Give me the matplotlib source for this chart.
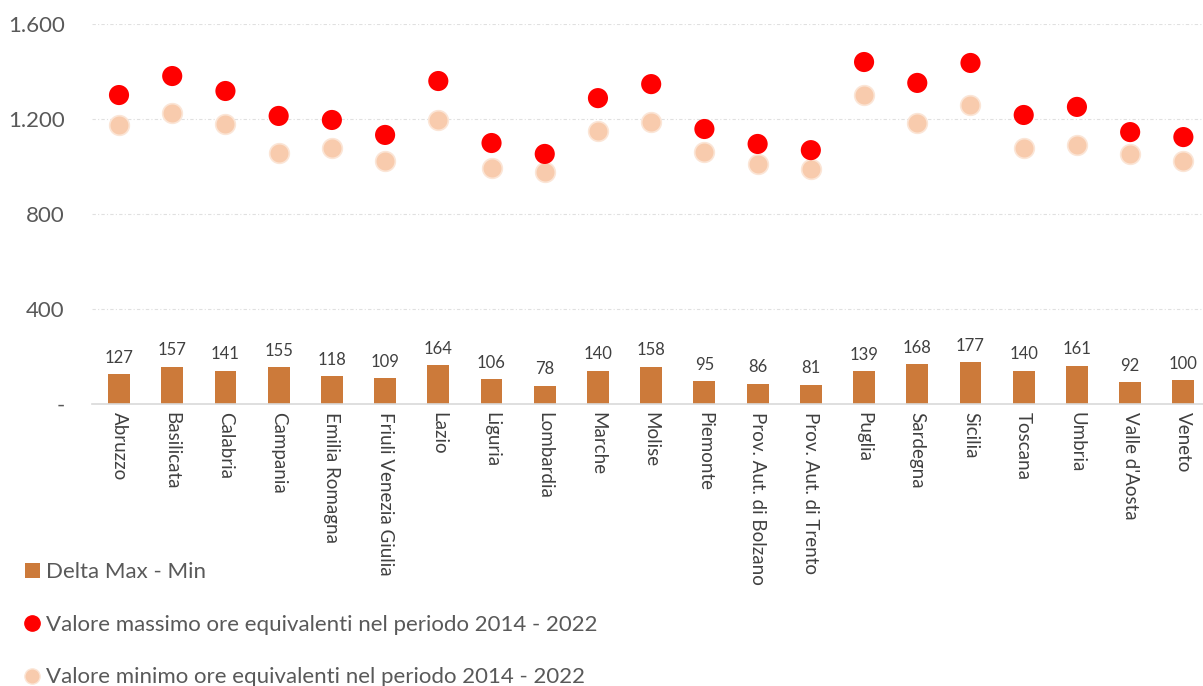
import matplotlib.pyplot as plt
import numpy as np
from matplotlib.lines import Line2D
from matplotlib.patches import Patch
from matplotlib.ticker import FuncFormatter

plt.rcParams["font.family"] = ["Lato", "DejaVu Sans"]

regions = [
    "Abruzzo", "Basilicata", "Calabria", "Campania", "Emilia Romagna",
    "Friuli Venezia Giulia", "Lazio", "Liguria", "Lombardia", "Marche",
    "Molise", "Piemonte", "Prov. Aut. di Bolzano", "Prov. Aut. di Trento",
    "Puglia", "Sardegna", "Sicilia", "Toscana", "Umbria", "Valle d'Aosta",
    "Veneto",
]
max_hours = [1301, 1381, 1318, 1213, 1196, 1133, 1360, 1099, 1053, 1288,
             1347, 1158, 1095, 1069, 1440, 1352, 1436, 1217, 1251, 1145, 1124]
min_hours = [1174, 1224, 1177, 1058, 1078, 1024, 1196, 993, 975, 1148,
             1189, 1063, 1009, 988, 1301, 1184, 1259, 1077, 1090, 1053, 1024]
delta = [127, 157, 141, 155, 118, 109, 164, 106, 78, 140,
         158, 95, 86, 81, 139, 168, 177, 140, 161, 92, 100]

BAR = "#CC7A3A"
MAX_C = "#FF0000"
MIN_C = "#F8CBAD"
GRAY = "#595959"

fig = plt.figure(figsize=(12.03, 6.86), dpi=100)
ax = fig.add_axes([0.0768, 0.411, 0.929, 0.554])

x = np.arange(len(regions))
ax.bar(x, delta, width=0.41, color=BAR, zorder=2)
for xi, d in zip(x, delta):
    ax.annotate(f"{d}", (xi, d), xytext=(0, 6), textcoords="offset points",
                ha="center", va="bottom", fontsize=12, color="#404040")

ax.scatter(x, min_hours, s=200, color=MIN_C, edgecolors="#FBE5D6",
           linewidths=1.2, zorder=3)
ax.scatter(x, max_hours, s=210, color=MAX_C, edgecolors="none", zorder=4)

ax.set_xlim(-0.5, len(regions) - 0.5)
ax.set_ylim(0, 1600)
ax.set_yticks([0, 400, 800, 1200, 1600])
ax.yaxis.set_major_formatter(FuncFormatter(
    lambda v, _: "-" if v == 0 else f"{int(v):,}".replace(",", ".")))
ax.grid(axis="y", color="#E0E0E0", linestyle=(0, (3, 2, 1, 2)), linewidth=0.8)
ax.set_axisbelow(True)

ax.set_xticks(x)
ax.set_xticklabels(regions, rotation=270, fontsize=13.5, color="#404040",
                   va="top", ha="center")
ax.tick_params(axis="y", length=0, labelsize=16, labelcolor=GRAY, pad=20)
ax.tick_params(axis="x", length=0, pad=6)
for side in ["top", "right", "left"]:
    ax.spines[side].set_visible(False)
ax.spines["bottom"].set_color("#D9D9D9")
ax.spines["bottom"].set_linewidth(1.2)

handles = [
    Patch(facecolor=BAR, label="Delta Max - Min"),
    Line2D([], [], marker="o", linestyle="none", markersize=11,
           markerfacecolor=MAX_C, markeredgecolor=MAX_C,
           label="Valore massimo ore equivalenti nel periodo 2014 - 2022"),
    Line2D([], [], marker="o", linestyle="none", markersize=11,
           markerfacecolor=MIN_C, markeredgecolor="#FBE5D6",
           label="Valore minimo ore equivalenti nel periodo 2014 - 2022"),
]
leg = fig.legend(handles=handles, loc="upper left", bbox_to_anchor=(0.013, 0.193),
                 frameon=False, fontsize=16, labelspacing=1.46,
                 handlelength=0.7, handletextpad=0.25, borderaxespad=0)
for t in leg.get_texts():
    t.set_color(GRAY)

fig.savefig("out.png", dpi=100)
